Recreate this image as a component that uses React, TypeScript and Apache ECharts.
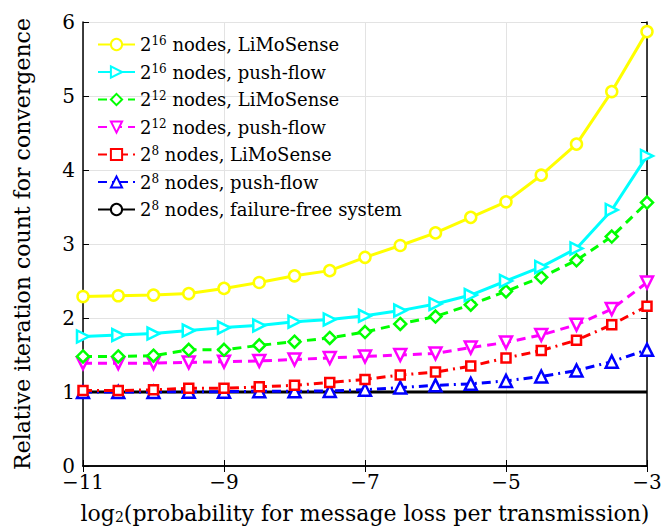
import React, { useEffect, useRef } from "react";
import * as echarts from "echarts";

const xValues = [-11, -10.5, -10, -9.5, -9, -8.5, -8, -7.5, -7, -6.5, -6, -5.5, -5, -4.5, -4, -3.5, -3];

const n16Limo = [2.29, 2.3, 2.31, 2.33, 2.4, 2.48, 2.57, 2.64, 2.82, 2.98, 3.15, 3.36, 3.57, 3.93, 4.35, 5.06, 5.87];
const n16Push = [1.75, 1.77, 1.79, 1.83, 1.87, 1.9, 1.95, 1.98, 2.03, 2.1, 2.19, 2.31, 2.5, 2.69, 2.94, 3.46, 4.19];
const n12Limo = [1.48, 1.48, 1.49, 1.57, 1.57, 1.63, 1.68, 1.73, 1.81, 1.92, 2.02, 2.18, 2.36, 2.55, 2.78, 3.1, 3.56];
const n12Push = [1.39, 1.39, 1.39, 1.4, 1.41, 1.42, 1.44, 1.46, 1.48, 1.5, 1.52, 1.6, 1.67, 1.77, 1.91, 2.12, 2.48];
const n8Limo = [1.02, 1.02, 1.03, 1.05, 1.05, 1.07, 1.09, 1.13, 1.17, 1.23, 1.27, 1.35, 1.46, 1.56, 1.7, 1.91, 2.16];
const n8Push = [1.0, 1.0, 1.0, 1.005, 1.005, 1.01, 1.01, 1.015, 1.03, 1.06, 1.09, 1.11, 1.15, 1.21, 1.29, 1.41, 1.57];
const n8Free = [1, 1, 1, 1, 1, 1, 1, 1, 1, 1, 1, 1, 1, 1, 1, 1, 1];

const legendBase = ["2", "2", "2", "2", "2", "2", "2"];
const legendExp = ["16", "16", "12", "12", "8", "8", "8"];
const legendRest = [
  " nodes, LiMoSense",
  " nodes, push-flow",
  " nodes, LiMoSense",
  " nodes, push-flow",
  " nodes, LiMoSense",
  " nodes, push-flow",
  " nodes, failure-free system",
];
const seriesNames = ["s16l", "s16p", "s12l", "s12p", "s8l", "s8p", "s8f"];

const FONT = "DejaVu Serif";

export default function App() {
  const ref = useRef<HTMLDivElement>(null);
  useEffect(() => {
    if (!ref.current) return;
    const chart = echarts.init(ref.current, undefined, { renderer: "svg" });
    const pair = (ys: number[]) => xValues.map((x, i) => [x, ys[i]]);
    const dashed = [9, 6];
    const dashDot = [9, 5, 2, 5];
    const mk = (
      idx: number,
      ys: number[],
      color: string,
      lineType: any,
      symbol: string,
      rotate = 0,
      size = 11
    ) => ({
      name: seriesNames[idx],
      type: "line",
      data: pair(ys),
      symbol,
      symbolSize: size,
      symbolRotate: rotate,
      showSymbol: symbol !== "none",
      lineStyle: { color, width: 3, type: lineType },
      itemStyle: { color: "#ffffff", borderColor: color, borderWidth: 2.5 },
      z: 10 - idx,
    });
    const labelMap: Record<string, number> = {};
    seriesNames.forEach((s, i) => (labelMap[s] = i));
    const tickFmt = (v: number) => (v < 0 ? "\u2212" + Math.abs(v) : String(v));
    const axisLine = { show: true, lineStyle: { color: "#000", width: 1.5 } };
    const axisTick = { show: true, inside: true, length: 6, lineStyle: { color: "#000", width: 1 } };
    const split = { show: true, lineStyle: { color: "#e3e3e3", width: 1 } };
    chart.setOption({
      animation: false,
      textStyle: { fontFamily: FONT },
      grid: { left: 83, right: 19, top: 22, bottom: 64, containLabel: false },
      legend: {
        orient: "vertical",
        left: 97,
        top: 35,
        padding: 0,
        itemWidth: 37,
        itemHeight: 14,
        itemGap: 9,
        data: seriesNames,
        formatter: (name: string) => {
          const i = labelMap[name];
          return `{b|${legendBase[i]}}{sup|${legendExp[i]}}{b|${legendRest[i]}}`;
        },
        textStyle: {
          fontFamily: FONT,
          fontSize: 18,
          color: "#000",
          rich: {
            b: { fontSize: 18, fontFamily: FONT, color: "#000" },
            sup: { fontSize: 12, fontFamily: FONT, color: "#000", padding: [0, 0, 7, 0] },
          },
        },
      },
      xAxis: [
        {
          type: "value",
          min: -11,
          max: -3,
          interval: 2,
          axisLine,
          axisTick,
          axisLabel: {
            fontFamily: FONT,
            fontSize: 20,
            color: "#000",
            margin: 6,
            formatter: tickFmt,
          },
          splitLine: split,
          name: "log{sub|2}(probability for message loss per transmission)",
          nameLocation: "middle",
          nameGap: 36,
          nameTextStyle: {
            fontFamily: FONT,
            fontSize: 22,
            color: "#000",
            rich: {
              sub: { fontSize: 14, fontFamily: FONT, color: "#000", padding: [8, 0, 0, 0] },
            },
          },
        },
        {
          type: "value",
          position: "top",
          min: -11,
          max: -3,
          interval: 2,
          axisLine,
          axisTick,
          axisLabel: { show: false },
          splitLine: { show: false },
        },
      ],
      yAxis: [
        {
          type: "value",
          min: 0,
          max: 6,
          interval: 1,
          axisLine,
          axisTick,
          axisLabel: { fontFamily: FONT, fontSize: 20, color: "#000", margin: 8 },
          splitLine: split,
          name: "Relative iteration count for convergence",
          nameLocation: "middle",
          nameGap: 50,
          nameTextStyle: { fontFamily: FONT, fontSize: 22, color: "#000" },
        },
        {
          type: "value",
          position: "right",
          min: 0,
          max: 6,
          interval: 1,
          axisLine,
          axisTick,
          axisLabel: { show: false },
          splitLine: { show: false },
        },
      ],
      series: [
        mk(6, n8Free, "#000000", "solid", "none"),
        mk(5, n8Push, "#0000ff", dashDot, "triangle", 0, 12),
        mk(4, n8Limo, "#ff0000", dashDot, "rect", 0, 9),
        mk(3, n12Push, "#ff00ff", dashed, "triangle", 180, 12),
        mk(2, n12Limo, "#00ff00", dashed, "diamond", 0, 12),
        mk(1, n16Push, "#00ffff", "solid", "triangle", -90, 12),
        mk(0, n16Limo, "#ffff00", "solid", "circle", 0, 11),
      ],
    });
    return () => chart.dispose();
  }, []);
  return (
    <div
      ref={ref}
      style={{ position: "absolute", left: 0, top: 0, width: 666, height: 530 }}
    />
  );
}
